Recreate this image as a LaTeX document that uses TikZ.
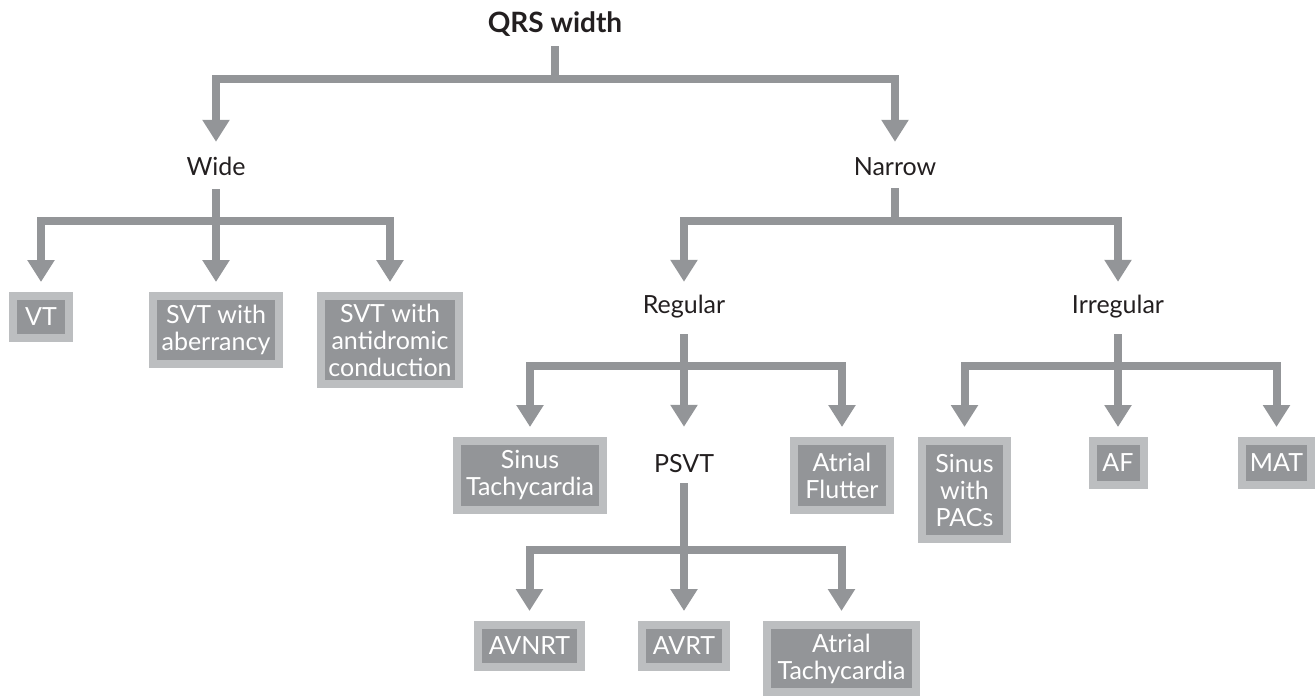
\documentclass[tikz,border=0pt]{standalone}
\usepackage{fontspec}
\setmainfont{Lato}
\usetikzlibrary{arrows.meta}
\definecolor{arrowgray}{HTML}{939598}
\definecolor{framegray}{HTML}{BCBEC0}
\definecolor{ink}{HTML}{231F20}
\tikzset{
  cat/.style={font=\fontsize{25}{27}\selectfont, text=ink, inner sep=0pt,
    text height=17pt, text depth=6pt, anchor=base},
  dxbox/.style={draw=framegray, fill=arrowgray, line width=8pt, text=white,
    font=\fontsize{25}{27}\selectfont, align=center, inner sep=0pt},
  conn/.style={draw=arrowgray, line width=8pt, line join=miter,
    -{Triangle[width=26pt,length=22pt]}},
}
\begin{document}
\begin{tikzpicture}[x=1pt,y=-1pt]
\useasboundingbox (0,0) rectangle (1315,696);

% levels of the horizontal bars
\coordinate (barTop) at (0,79);
\coordinate (barWide) at (0,221);
\coordinate (barNarrow) at (0,221);
\coordinate (barReg) at (0,366);
\coordinate (barIrr) at (0,366);
\coordinate (barPsvt) at (0,550);

% category labels
\node[cat, font=\fontsize{28}{30}\selectfont\bfseries] (qrs) at (555,32) {QRS width};
\node[cat] (wide) at (216,175) {Wide};
\node[cat] (narrow) at (895,175) {Narrow};
\node[cat] (regular) at (684,313) {Regular};
\node[cat] (irregular) at (1118,313) {Irregular};
\node[cat] (psvt) at (684,472) {PSVT};

% diagnoses
\node[dxbox, minimum width=56pt, minimum height=42pt] (vt) at (41,317) {VT};
\node[dxbox, minimum width=126pt, minimum height=68pt] (svtab) at (216,330) {SVT with\\aberrancy};
\node[dxbox, minimum width=138pt, minimum height=88pt] (svtanti) at (390,340) {SVT with\\antidromic\\conduction};
\node[dxbox, minimum width=146pt, minimum height=69pt] (sinust) at (530,475.5) {Sinus\\Tachycardia};
\node[dxbox, minimum width=96pt, minimum height=69pt] (aflut) at (842,475.5) {Atrial\\Flutter};
\node[dxbox, minimum width=103pt, minimum height=42pt] (avnrt) at (529.5,646) {AVNRT};
\node[dxbox, minimum width=84pt, minimum height=42pt] (avrt) at (684,646) {AVRT};
\node[dxbox, minimum width=149pt, minimum height=67pt] (atach) at (841.5,658.5) {Atrial\\Tachycardia};
\node[dxbox, minimum width=85pt, minimum height=98pt] (spac) at (964.5,490) {Sinus\\with\\PACs};
\node[dxbox, minimum width=51pt, minimum height=44pt] (af) at (1118,463) {AF};
\node[dxbox, minimum width=69pt, minimum height=44pt] (mat) at (1276.5,463) {MAT};

% QRS width
\draw[conn, shorten <=8pt, shorten >=16pt] (qrs.south) -- (qrs.south |- barTop) -| (wide.north);
\draw[conn, shorten <=8pt, shorten >=16pt] (qrs.south) -- (qrs.south |- barTop) -| (narrow.north);

% wide complex
\foreach \c in {vt,svtab,svtanti}
  \draw[conn, shorten <=8pt, shorten >=10pt] (wide.south) -- (wide.south |- barWide) -| (\c.north);

% narrow complex
\foreach \c in {regular,irregular}
  \draw[conn, shorten <=7pt, shorten >=14pt] (narrow.south) -- (narrow.south |- barNarrow) -| (\c.north);

% regular rhythm
\draw[conn, shorten <=15pt, shorten >=10pt] (regular.south) -- (regular.south |- barReg) -| (sinust.north);
\draw[conn, shorten <=15pt, shorten >=28pt] (regular.south) -- (regular.south |- barReg) -| (psvt.north);
\draw[conn, shorten <=15pt, shorten >=10pt] (regular.south) -- (regular.south |- barReg) -| (aflut.north);

% PSVT
\foreach \c in {avnrt,avrt,atach}
  \draw[conn, shorten <=5pt, shorten >=10pt] (psvt.south) -- (psvt.south |- barPsvt) -| (\c.north);

% irregular rhythm
\foreach \c in {spac,af,mat}
  \draw[conn, shorten <=15pt, shorten >=10pt] (irregular.south) -- (irregular.south |- barIrr) -| (\c.north);
\end{tikzpicture}
\end{document}
